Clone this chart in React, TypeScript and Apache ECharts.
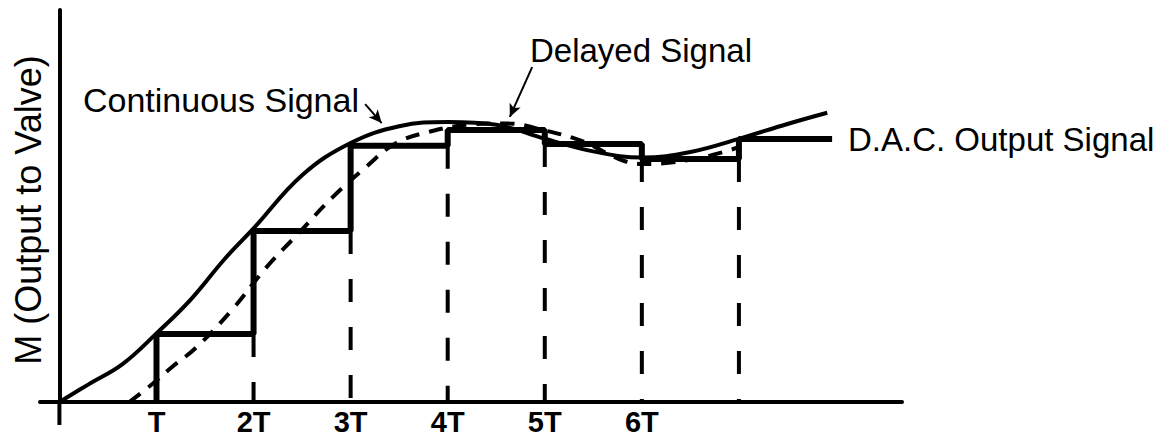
import React, { useEffect, useRef } from "react";
import * as echarts from "echarts";

// Sample instants (in units of T) and their labels
const sampleTimes = [1, 2, 3, 4, 5, 6, 7];
const sampleLabels = ["T", "2T", "3T", "4T", "5T", "6T", ""];

// D.A.C. output level held after each sample
const dacLevels = [24.3, 61.1, 91.5, 97.1, 92.1, 86.8, 93.9];
const dacEndTime = 7.96;

// Continuous signal
const contTimes = [0, 0.3, 0.65, 1.0, 1.35, 1.7, 2.0, 2.5, 3.0, 3.5, 4.0, 4.5, 5.0, 5.5, 6.0, 6.5, 7.0, 7.5, 7.91];
const contValues = [0, 6.3, 13.5, 24.5, 36.5, 51, 62, 81, 92.5, 98.5, 100, 99, 94, 89.5, 87.3, 89.3, 94, 99.3, 103.3];

// Delayed signal
const delayedTimes = [0.72, 0.96, 1.16, 1.41, 1.78, 2.13, 2.47, 2.81, 3.16, 3.47, 3.81, 4.2, 4.6, 5.0, 5.4, 5.75, 6.0, 6.3, 6.7, 7.0];
const delayedValues = [0, 6.5, 12.5, 19.5, 33, 48, 60.5, 73, 84, 92.5, 96.5, 99, 99.5, 97, 93, 87, 85, 85.5, 88, 91];

// Vertical axis extent below the time axis
const yAxisStub = [0, -8.2];

// Annotation arrows: [fromT, fromM, toT, toM]
const contArrow = [3.15, 106.4, 3.32, 99.6];
const delayedArrow = [4.87, 119.6, 4.64, 101.8];

const FONT = "'Liberation Sans', Arial, Helvetica, sans-serif";

export default function App() {
  const ref = useRef<HTMLDivElement>(null);

  useEffect(() => {
    if (!ref.current) return;
    const chart = echarts.init(ref.current, null, { renderer: "svg" });

    const dacData: number[][] = [[sampleTimes[0], 0]];
    sampleTimes.forEach((t, i) => dacData.push([t, dacLevels[i]]));
    dacData.push([dacEndTime, dacLevels[dacLevels.length - 1]]);

    const verticalSeries = sampleTimes.slice(1).map((t, j) => {
      const i = j + 1;
      const top = Math.min(dacLevels[i - 1], dacLevels[i]);
      return {
        type: "line",
        data: [
          [t, top],
          [t, 0],
        ],
        symbol: "none",
        silent: true,
        lineStyle: { color: "#000", width: 4, type: [23, 25] },
        z: 2,
      };
    });

    const arrowLine = (a: number[]) => [
      { coord: [a[0], a[1]] },
      { coord: [a[2], a[3]] },
    ];

    chart.setOption({
      animation: false,
      backgroundColor: "#fff",
      grid: {
        left: 40,
        top: 10,
        width: 862,
        height: 392,
        containLabel: false,
        outerBoundsMode: "none",
      },
      xAxis: {
        type: "value",
        min: -0.2,
        max: 8.68,
        axisLine: { onZero: true, lineStyle: { color: "#000", width: 4 } },
        axisTick: { show: false },
        splitLine: { show: false },
        axisLabel: {
          customValues: sampleTimes.slice(0, 6),
          formatter: (v: number) => sampleLabels[sampleTimes.indexOf(Math.round(v))] ?? "",
          color: "#000",
          fontFamily: FONT,
          fontWeight: "bold",
          fontSize: 29,
          lineHeight: 29,
          margin: 5,
        },
      },
      yAxis: {
        type: "value",
        min: 0,
        max: 140,
        axisLine: { onZero: true, lineStyle: { color: "#000", width: 4 } },
        axisTick: { show: false },
        splitLine: { show: false },
        axisLabel: { show: false },
      },
      series: [
        {
          type: "line",
          data: yAxisStub.map((v) => [0, v]),
          symbol: "none",
          silent: true,
          clip: false,
          lineStyle: { color: "#000", width: 4 },
          z: 1,
        },
        {
          type: "line",
          name: "Continuous Signal",
          data: contTimes.map((t, i) => [t, contValues[i]]),
          symbol: "none",
          smooth: 0.4,
          silent: true,
          lineStyle: { color: "#000", width: 4 },
          z: 3,
          markLine: {
            silent: true,
            symbol: ["none", "arrow"],
            symbolSize: [9, 13],
            label: { show: false },
            lineStyle: { color: "#000", width: 2, type: "solid" },
            data: [arrowLine(contArrow), arrowLine(delayedArrow)],
          },
        },
        {
          type: "line",
          name: "Delayed Signal",
          data: delayedTimes.map((t, i) => [t, delayedValues[i]]),
          symbol: "none",
          smooth: 0.4,
          silent: true,
          lineStyle: { color: "#000", width: 4, type: [14, 10] },
          z: 3,
        },
        {
          type: "line",
          name: "D.A.C. Output Signal",
          data: dacData,
          step: "end",
          symbol: "none",
          silent: true,
          lineStyle: { color: "#000", width: 6 },
          z: 4,
        },
        ...verticalSeries,
      ],
      graphic: [
        {
          type: "text",
          x: 28,
          y: 210,
          rotation: Math.PI / 2,
          style: {
            text: "M (Output to Valve)",
            fontFamily: FONT,
            fontSize: 36,
            fill: "#000",
            align: "center",
            verticalAlign: "middle",
          },
        },
        {
          type: "text",
          x: 83,
          y: 100,
          style: {
            text: "Continuous Signal",
            fontFamily: FONT,
            fontSize: 34,
            fill: "#000",
            align: "left",
            verticalAlign: "middle",
          },
        },
        {
          type: "text",
          x: 530,
          y: 50,
          style: {
            text: "Delayed Signal",
            fontFamily: FONT,
            fontSize: 33,
            fill: "#000",
            align: "left",
            verticalAlign: "middle",
          },
        },
        {
          type: "text",
          x: 848,
          y: 139,
          style: {
            text: "D.A.C. Output Signal",
            fontFamily: FONT,
            fontSize: 33,
            fill: "#000",
            align: "left",
            verticalAlign: "middle",
          },
        },
      ],
    });

    return () => chart.dispose();
  }, []);

  return (
    <div
      ref={ref}
      style={{ position: "fixed", left: 0, top: 0, width: 1169, height: 438, background: "#fff" }}
    />
  );
}
